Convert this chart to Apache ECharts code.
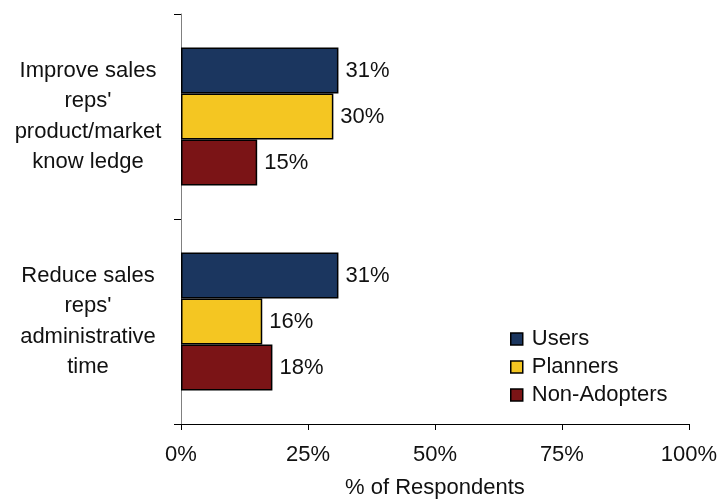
<!DOCTYPE html>
<html>
<head>
<meta charset="utf-8">
<script src="https://cdn.jsdelivr.net/npm/echarts@6/dist/echarts.min.js"></script>
<style>
html,body{margin:0;padding:0;background:#fff;}
#c{width:720px;height:504px;}
</style>
</head>
<body>
<div id="c"></div>
<script>
var categories = ["Improve sales\nreps'\nproduct/market\nknow ledge", "Reduce sales\nreps'\nadministrative\ntime"];
var seriesNames = ["Users", "Planners", "Non-Adopters"];
var users = [31, 31];
var planners = [30, 16];
var nonAdopters = [15, 18];
var xTicks = [0, 25, 50, 75, 100];
var colors = ["#1b365f", "#f4c622", "#7b1416"];
var FONT = "'Liberation Sans', Arial, sans-serif";

var chart = echarts.init(document.getElementById('c'));
function mk(name, data, color) {
  return {
    name: name, type: 'bar', data: data, barWidth: 46, barGap: '0%',
    itemStyle: {color: color, borderColor: '#000', borderWidth: 1.5},
    label: {show: true, position: 'right', distance: 7, formatter: '{c}%',
      fontFamily: FONT, fontSize: 22, color: '#111'}
  };
}
chart.setOption({
  animation: false,
  textStyle: {fontFamily: FONT},
  grid: {left: 181, right: 29, top: 14, bottom: 75, containLabel: false},
  legend: {
    orient: 'vertical', left: 505, top: 323, itemWidth: 12, itemHeight: 12, itemGap: 6,
    icon: 'rect', data: seriesNames,
    itemStyle: {borderColor: '#000', borderWidth: 1.5},
    textStyle: {fontFamily: FONT, fontSize: 22, color: '#111', lineHeight: 22, padding: [0,0,0,4]}
  },
  xAxis: {
    type: 'value', min: xTicks[0], max: xTicks[xTicks.length-1], interval: 25,
    name: '% of Respondents', nameLocation: 'middle', nameGap: 53,
    nameTextStyle: {fontFamily: FONT, fontSize: 22, color: '#111'},
    axisLine: {show: true, lineStyle: {color: '#000', width: 1}},
    axisTick: {show: true, length: 6, lineStyle: {color: '#000'}},
    splitLine: {show: false},
    axisLabel: {formatter: '{value}%', margin: 20, fontFamily: FONT, fontSize: 22, color: '#111'}
  },
  yAxis: {
    type: 'category', data: categories, inverse: true,
    axisLine: {show: true, lineStyle: {color: '#808080', width: 1}},
    axisTick: {show: true, length: 7, lineStyle: {color: '#000'}},
    axisLabel: {align: 'center', margin: 93, fontFamily: FONT, fontSize: 22, lineHeight: 30.5, color: '#111'}
  },
  series: [mk(seriesNames[0], users, colors[0]), mk(seriesNames[1], planners, colors[1]), mk(seriesNames[2], nonAdopters, colors[2])]
});
</script>
</body>
</html>
